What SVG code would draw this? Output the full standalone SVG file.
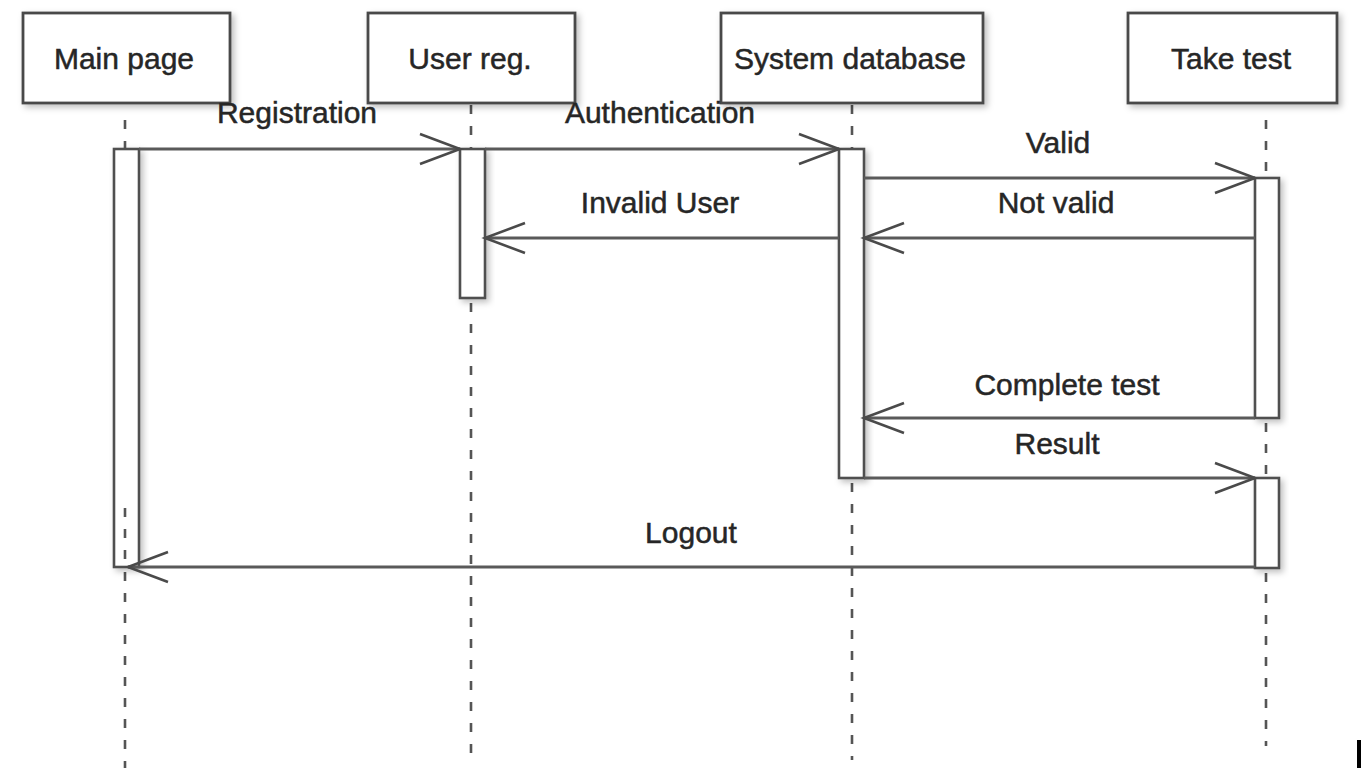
<svg xmlns="http://www.w3.org/2000/svg" width="1366" height="768" viewBox="0 0 1366 768">
<style>
.box{fill:#fff;stroke:#4a4a4a;stroke-width:2.8;filter:url(#sh)}
.act{fill:#fff;stroke:#505050;stroke-width:2.6;filter:url(#sh)}
.life{stroke:#555;stroke-width:2.6;stroke-dasharray:9 12;fill:none}
.msg{stroke:#5a5a5a;stroke-width:2.8;fill:none;marker-end:url(#open)}
text{font-family:"Liberation Sans",Arial,sans-serif;font-size:30px;fill:#262626;stroke:#262626;stroke-width:0.5;text-anchor:middle}
</style>
<defs>
<filter id="sh" x="-20%" y="-20%" width="160%" height="160%">
<feDropShadow dx="3" dy="3" stdDeviation="3" flood-color="#000" flood-opacity="0.25"/>
</filter>
<marker id="open" markerUnits="userSpaceOnUse" viewBox="-44 -18 48 36" markerWidth="48" markerHeight="36" refX="0" refY="0" orient="auto" overflow="visible">
<path d="M-40,-15 L0,0 L-40,15" fill="none" stroke="#4a4a4a" stroke-width="2.6"/>
</marker>
</defs>
<rect width="1366" height="768" fill="#fff"/>

<g id="lifelines">
<line class="life" x1="125" y1="120" x2="125" y2="149"/>
<line class="life" x1="125" y1="572" x2="125" y2="768"/>
<line class="life" x1="471" y1="105" x2="471" y2="149"/>
<line class="life" x1="471" y1="303" x2="471" y2="762"/>
<line class="life" x1="852" y1="105" x2="852" y2="149"/>
<line class="life" x1="852" y1="483" x2="852" y2="760"/>
<line class="life" x1="1266" y1="120" x2="1266" y2="178"/>
<line class="life" x1="1266" y1="423" x2="1266" y2="478"/>
<line class="life" x1="1266" y1="573" x2="1266" y2="746"/>
</g>

<g id="main-page">
<rect class="box" x="23" y="13" width="207" height="90"/>
<text x="124" y="69">Main page</text>
<rect class="act" x="114" y="149" width="25" height="418"/>
<line class="life" x1="125" y1="508" x2="125" y2="562"/>
</g>

<g id="user-reg">
<rect class="box" x="368" y="13" width="207" height="90"/>
<text x="470" y="69">User reg.</text>
<rect class="act" x="460" y="149" width="25" height="149"/>
</g>

<g id="system-database">
<rect class="box" x="721" y="13" width="262" height="90"/>
<text x="850" y="69">System database</text>
<rect class="act" x="839" y="149" width="25" height="329"/>
</g>

<g id="take-test">
<rect class="box" x="1128" y="13" width="209" height="90"/>
<text x="1231" y="69">Take test</text>
<rect class="act" x="1255" y="178" width="24" height="240"/>
<rect class="act" x="1255" y="478" width="24" height="90"/>
</g>

<g id="connectors">
<line class="msg" x1="139" y1="149" x2="460" y2="149"/>
<line class="msg" x1="485" y1="149" x2="839" y2="149"/>
<line class="msg" x1="864" y1="178" x2="1255" y2="178"/>
<line class="msg" x1="1255" y1="238" x2="864" y2="238"/>
<line class="msg" x1="839" y1="238" x2="485" y2="238"/>
<line class="msg" x1="1255" y1="418" x2="864" y2="418"/>
<line class="msg" x1="864" y1="478" x2="1255" y2="478"/>
<line class="msg" x1="1255" y1="567" x2="128" y2="567"/>
<text x="297" y="123">Registration</text>
<text x="660" y="123">Authentication</text>
<text x="1058" y="153">Valid</text>
<text x="660" y="213">Invalid User</text>
<text x="1056" y="213">Not valid</text>
<text x="1067" y="395">Complete test</text>
<text x="1057" y="454">Result</text>
<text x="691" y="543">Logout</text>
</g>

<rect x="1357" y="740" width="4" height="28" fill="#000"/>
</svg>
